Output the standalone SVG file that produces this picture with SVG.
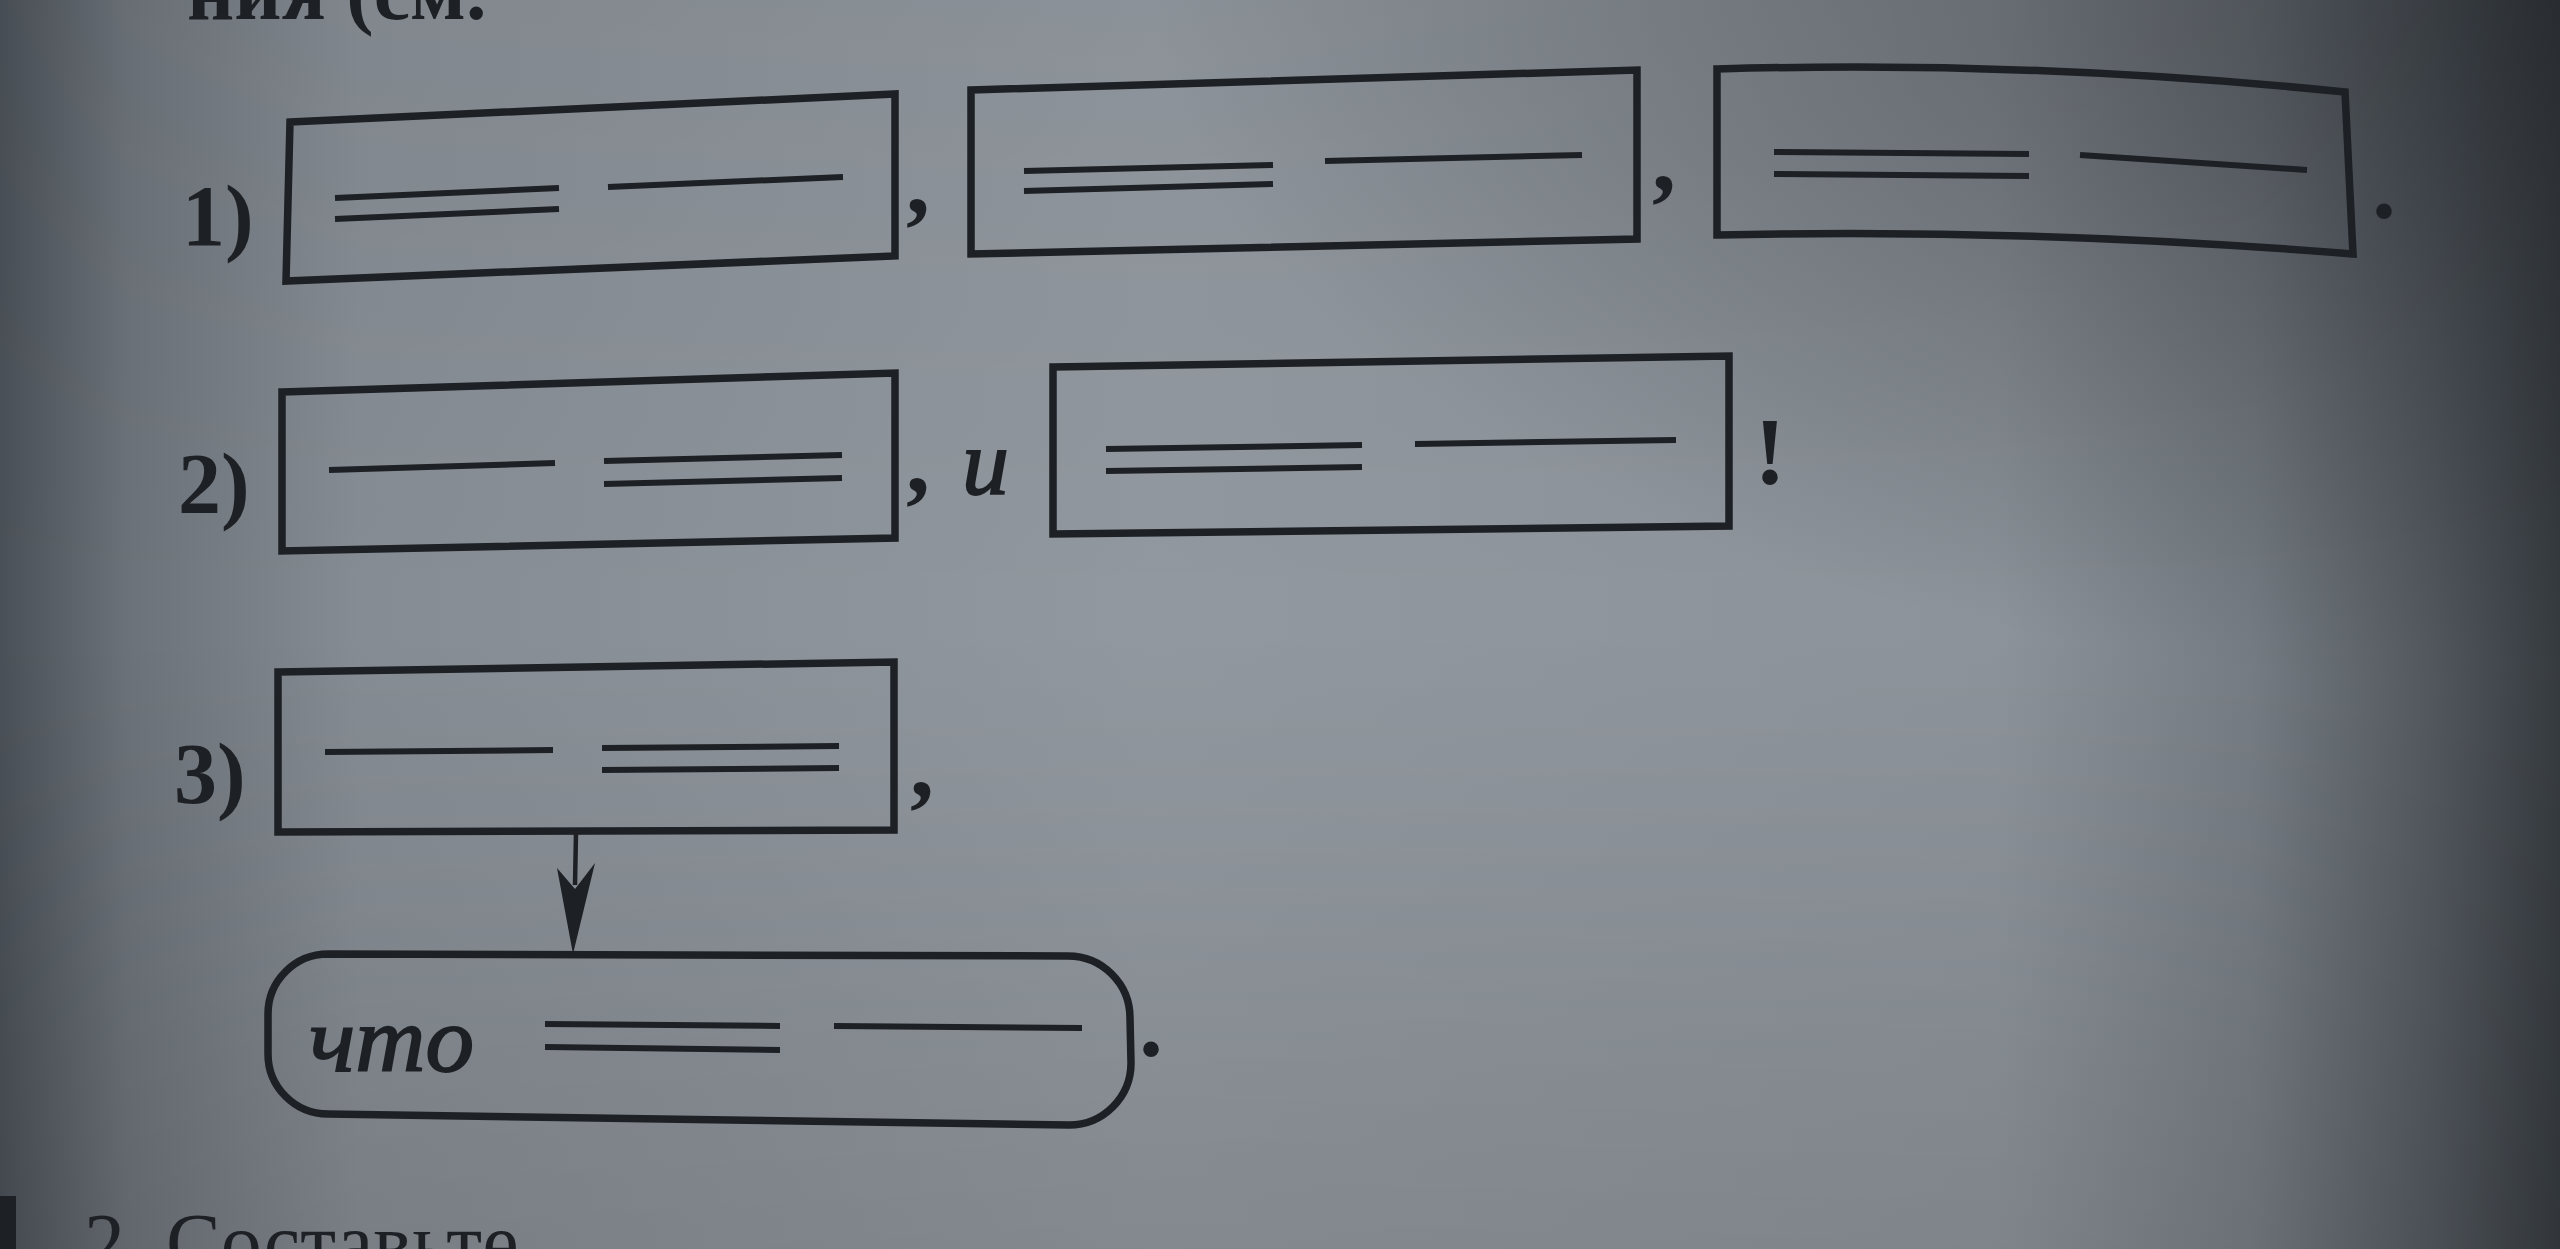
<svg xmlns="http://www.w3.org/2000/svg" width="2560" height="1249" viewBox="0 0 2560 1249">
<defs>
<linearGradient id="bgH" x1="0" y1="0" x2="1" y2="0">
<stop offset="0" stop-color="#4a5057"/>
<stop offset="0.05" stop-color="#6c7279"/>
<stop offset="0.14" stop-color="#868c93"/>
<stop offset="0.45" stop-color="#92989f"/>
<stop offset="0.78" stop-color="#8d939a"/>
<stop offset="0.88" stop-color="#767c83"/>
<stop offset="0.95" stop-color="#52585e"/>
<stop offset="1" stop-color="#363b40"/>
</linearGradient>
<radialGradient id="tr" cx="1" cy="0" r="0.55" gradientUnits="objectBoundingBox">
<stop offset="0" stop-color="#1e2227" stop-opacity="0.5"/>
<stop offset="1" stop-color="#1e2227" stop-opacity="0"/>
</radialGradient>
<linearGradient id="bgV" x1="0" y1="0" x2="0" y2="1">
<stop offset="0" stop-color="#000" stop-opacity="0.04"/>
<stop offset="0.5" stop-color="#000" stop-opacity="0"/>
<stop offset="1" stop-color="#000" stop-opacity="0.1"/>
</linearGradient>
<style>
.box{fill:none;stroke:#1d2024;stroke-width:7.5;stroke-linejoin:miter}
.ln{stroke:#1d2024;stroke-width:6;stroke-linecap:butt;fill:none}
.num{font-family:"Liberation Serif",serif;font-weight:bold;font-size:86px;fill:#1d2024}
.pn{font-family:"Liberation Serif",serif;font-weight:bold;font-size:96px;fill:#1d2024;text-anchor:middle}
.it{font-family:"Liberation Serif",serif;font-style:italic;font-size:94px;fill:#1d2024;stroke:#1d2024;stroke-width:1.8}
.pg{font-family:"Liberation Serif",serif;font-size:82px;fill:#1d2024}
</style>
</defs>
<rect x="0" y="0" width="2560" height="1249" fill="url(#bgH)"/>
<rect x="0" y="0" width="2560" height="1249" fill="url(#tr)"/>
<rect x="0" y="0" width="2560" height="1249" fill="url(#bgV)"/>

<!-- partial page text -->
<text class="pg" x="187" y="19" font-weight="bold">ния (см.</text>
<text class="pg" x="84" y="1270">2. Составьте</text>
<rect x="0" y="1196" width="16" height="53" fill="#1d2024"/>

<!-- Row 1 -->
<g id="row1-label"><text class="num" x="182" y="245">1)</text></g>
<g id="r1a">
<polygon class="box" points="290,122 895,94 895,256 286,281"/>
<line class="ln" x1="335" y1="198" x2="559" y2="188"/>
<line class="ln" x1="335" y1="219" x2="559" y2="209"/>
<line class="ln" x1="608" y1="187" x2="843" y2="177"/>
</g>
<text class="pn" x="918" y="213">,</text>
<g id="r1b">
<polygon class="box" points="971,90 1637,70 1637,239 971,254"/>
<line class="ln" x1="1024" y1="171" x2="1273" y2="165"/>
<line class="ln" x1="1024" y1="191" x2="1273" y2="184"/>
<line class="ln" x1="1325" y1="161" x2="1582" y2="155"/>
</g>
<text class="pn" x="1664" y="190">,</text>
<g id="r1c">
<path class="box" d="M1717 69 Q2030 60 2345 92 L2353 254 Q2030 228 1717 235 Z"/>
<line class="ln" x1="1774" y1="152" x2="2029" y2="154"/>
<line class="ln" x1="1774" y1="174" x2="2029" y2="176"/>
<line class="ln" x1="2080" y1="155" x2="2307" y2="170"/>
</g>
<text class="pn" x="2384" y="218">.</text>

<!-- Row 2 -->
<g id="row2-label"><text class="num" x="178" y="513">2)</text></g>
<g id="r2a">
<polygon class="box" points="282,392 895,373 895,538 282,551"/>
<line class="ln" x1="329" y1="470" x2="555" y2="463"/>
<line class="ln" x1="604" y1="461" x2="842" y2="455"/>
<line class="ln" x1="604" y1="484" x2="842" y2="478"/>
</g>
<text class="pn" x="918" y="492">,</text>
<text class="it" x="962" y="494">и</text>
<g id="r2b">
<polygon class="box" points="1053,367 1729,356 1729,526 1053,534"/>
<line class="ln" x1="1106" y1="449" x2="1362" y2="445"/>
<line class="ln" x1="1106" y1="471" x2="1362" y2="467"/>
<line class="ln" x1="1415" y1="444" x2="1676" y2="440"/>
</g>
<text class="pn" x="1770" y="484" font-size="104">!</text>

<!-- Row 3 -->
<g id="row3-label"><text class="num" x="174" y="803">3)</text></g>
<g id="r3a">
<polygon class="box" points="278,672 894,662 894,830 278,832"/>
<line class="ln" x1="325" y1="752" x2="553" y2="750"/>
<line class="ln" x1="602" y1="748" x2="839" y2="746"/>
<line class="ln" x1="602" y1="770" x2="839" y2="768"/>
</g>
<text class="pn" x="922" y="796">,</text>

<g id="connectors">
<line x1="576" y1="832" x2="575" y2="885" stroke="#1d2024" stroke-width="4.5"/>
<polygon points="557,868 575,889 595,863 573,954" fill="#1d2024"/>
</g>

<g id="r3b">
<path class="box" d="M328 954 L1068 956 A62 62 0 0 1 1130 1018 L1131 1063 A62 62 0 0 1 1069 1125 L328 1114 A60 60 0 0 1 268 1054 L268 1014 A60 60 0 0 1 328 954 Z"/>
<text class="it" x="309" y="1071" textLength="165" lengthAdjust="spacingAndGlyphs">что</text>
<line class="ln" x1="545" y1="1024" x2="780" y2="1026"/>
<line class="ln" x1="545" y1="1047" x2="780" y2="1050"/>
<line class="ln" x1="834" y1="1026" x2="1082" y2="1028"/>
</g>
<text class="pn" x="1151" y="1056">.</text>
</svg>
